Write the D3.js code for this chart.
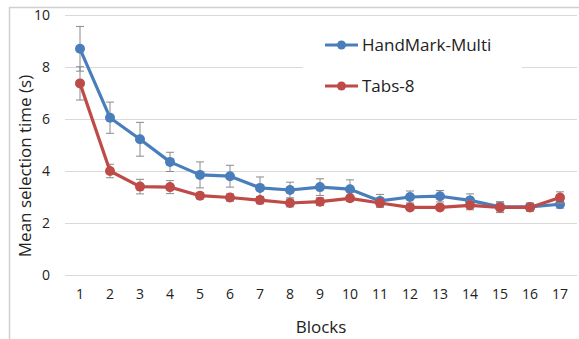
<!DOCTYPE html>
<html><head><meta charset="utf-8">
<script src="https://cdn.jsdelivr.net/npm/d3@7"></script>
<style>body{margin:0;background:#fff}svg{display:block}</style>
</head><body>
<script>
const blocks = [1,2,3,4,5,6,7,8,9,10,11,12,13,14,15,16,17];
const handmark = [8.7,6.05,5.22,4.35,3.85,3.8,3.35,3.27,3.38,3.3,2.85,3.0,3.03,2.87,2.62,2.62,2.72];
const handmarkErr = [0.86,0.6,0.65,0.37,0.5,0.42,0.42,0.3,0.32,0.36,0.25,0.23,0.22,0.25,0.2,0.15,0.15];
const tabs = [7.37,4.0,3.4,3.38,3.05,2.98,2.88,2.77,2.82,2.95,2.77,2.6,2.6,2.68,2.6,2.6,2.98];
const tabsErr = [0.64,0.26,0.28,0.25,0.12,0.14,0.14,0.15,0.15,0.12,0.12,0.1,0.1,0.17,0.2,0.15,0.22];
const yTicks = [0,2,4,6,8,10];
const seriesNames = ["HandMark-Multi","Tabs-8"];
const colors = ["#4a7ebb","#be4b48"];

const W=579,H=339;
const font = "'Open Sans', sans-serif";
const svg = d3.select("body").append("svg").attr("width",W).attr("height",H);
svg.append("rect").attr("x",9.5).attr("y",7.5).attr("width",W+10).attr("height",H+10)
  .attr("fill","#fff").attr("stroke","#d0d0d0").attr("stroke-width",1.5);

const x = d3.scaleBand().domain(blocks).range([65,575]);
const y = d3.scaleLinear().domain([0,10]).range([275,15]);

// gridlines
svg.append("g").selectAll("line").data(yTicks).join("line")
  .attr("x1",65).attr("x2",577).attr("y1",d=>y(d)+0.5).attr("y2",d=>y(d)+0.5)
  .attr("stroke","#d9d9d9").attr("stroke-width",1);

// y axis labels
const yAxis = d3.axisLeft(y).tickValues(yTicks).tickSize(0).tickPadding(0);
const gy = svg.append("g").attr("transform","translate(50,0)").call(yAxis);
gy.select(".domain").remove();
gy.selectAll("text").attr("font-family",font).attr("font-size",14).attr("fill","#222");

const xAxis = d3.axisBottom(x).tickSize(0).tickPadding(0);
const gx = svg.append("g").attr("transform","translate(0,289)").call(xAxis);
gx.select(".domain").remove();
gx.selectAll("text").attr("font-family",font).attr("font-size",14).attr("fill","#222");

svg.append("text").attr("x",321).attr("y",333).attr("text-anchor","middle")
  .attr("font-family",font).attr("font-size",17).attr("fill","#222").text("Blocks");
svg.append("text").attr("transform","translate(31,166) rotate(-90)").attr("text-anchor","middle")
  .attr("font-family",font).attr("font-size",17).attr("fill","#222").text("Mean selection time (s)");

const series = [
  {name:seriesNames[0], vals:handmark, err:handmarkErr, color:colors[0]},
  {name:seriesNames[1], vals:tabs, err:tabsErr, color:colors[1]}
];
const cx = d => x(d)+x.bandwidth()/2;

// draw error bars then lines per series (blue first, red on top)
series.forEach(s=>{
  const g = svg.append("g");
  const eb = g.append("g").attr("stroke","#8a8a8a").attr("stroke-width",1);
  blocks.forEach((b,i)=>{
    const hi=y(s.vals[i]+s.err[i]), lo=y(s.vals[i]-s.err[i]), xc=cx(b);
    eb.append("line").attr("x1",xc).attr("x2",xc).attr("y1",hi).attr("y2",lo);
    eb.append("line").attr("x1",xc-4).attr("x2",xc+4).attr("y1",hi).attr("y2",hi);
    eb.append("line").attr("x1",xc-4).attr("x2",xc+4).attr("y1",lo).attr("y2",lo);
  });
  g.append("path").datum(blocks.map((b,i)=>[cx(b),y(s.vals[i])]))
    .attr("d",d3.line()).attr("fill","none").attr("stroke",s.color).attr("stroke-width",3.2)
    .attr("stroke-linejoin","round");
  g.selectAll("circle").data(blocks).join("circle")
    .attr("cx",cx).attr("cy",(d,i)=>y(s.vals[i])).attr("r",5).attr("fill",s.color);
});

// legend
const lg = svg.append("g");
lg.append("rect").attr("x",303).attr("y",24).attr("width",219).attr("height",84).attr("fill","#fff");
series.forEach((s,i)=>{
  const ly = 45 + i*41;
  lg.append("line").attr("x1",325).attr("x2",358).attr("y1",ly).attr("y2",ly)
    .attr("stroke",s.color).attr("stroke-width",3.2);
  lg.append("circle").attr("cx",341.5).attr("cy",ly).attr("r",4.5).attr("fill",s.color);
  lg.append("text").attr("x",362).attr("y",ly).attr("dy","0.35em")
    .attr("font-family",font).attr("font-size",17).attr("fill","#222").text(s.name);
});
</script>
</body></html>
